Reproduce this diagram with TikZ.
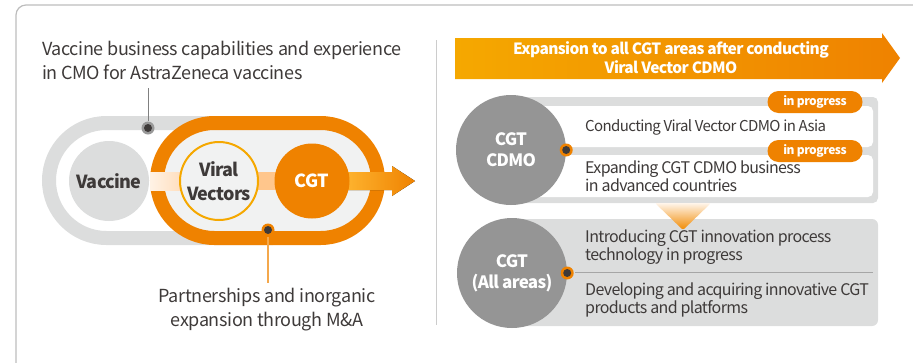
\documentclass[tikz,border=0pt]{standalone}
\usepackage{fontspec}
\setmainfont{Noto Sans CJK KR}[LetterSpace=-4]
\newfontfamily\loosefont{Noto Sans CJK KR}[LetterSpace=-2]
\usetikzlibrary{positioning}

\definecolor{samOrange}{HTML}{EF8200}
\definecolor{samYellow}{HTML}{F5A800}
\definecolor{samLight}{HTML}{DCDDDD}
\definecolor{samInner}{HTML}{F1F2F2}
\definecolor{samGray}{HTML}{959595}
\definecolor{samDark}{HTML}{3E3A39}
\definecolor{samFrame}{HTML}{BDBDBD}

\tikzset{
  bodytext/.style={text=samDark, font=\loosefont\fontsize{18}{24}\selectfont, align=left, inner sep=0pt},
  itemtext/.style={text=samDark, font=\fontsize{16}{16}\selectfont, align=left, anchor=west, inner sep=0pt},
  bigcircle/.style={circle, fill=samGray, minimum size=110pt, inner sep=0pt, text=white,
    font=\bfseries\fontsize{17}{21}\selectfont, align=center},
  badge/.style={rounded corners=11pt, fill=samOrange, text=white, minimum width=95pt,
    minimum height=22pt, inner sep=0pt, font=\bfseries\fontsize{12}{12}\selectfont},
  ringdot/.style={circle, fill=#1, minimum size=13pt, inner sep=0pt,
    path picture={\fill[samDark] (path picture bounding box.center) circle (4pt);}},
}

\begin{document}
\begin{tikzpicture}[x=1pt, y=-1pt]
    \useasboundingbox (0,0) rectangle (913,362);
    \clip (0,0) rectangle (913,362);

    % Marco exterior
    \draw[samFrame, line width=1.2pt, rounded corners=10pt] (16,5) rectangle (930,380);

    % Estadio gris (vacunas)
    \draw[samLight, line width=14pt, fill=white, rounded corners=57.5pt] (49,123) rectangle (330,238);
    \node[circle, fill=samLight, minimum size=80pt, inner sep=0pt, text=samDark,
      font=\bfseries\fontsize{18}{21}\selectfont] (vaccine) at (109,181) {Vaccine};

    % Estadio naranja (vectores virales y CGT)
    \draw[samOrange, line width=14pt, fill=samInner, rounded corners=57.5pt] (157,123) rectangle (378,238);

    % Barras de union
    \fill[left color=orange!10, right color=orange!30] (150,172) rectangle (190,190);
    \fill[orange!45] (250,172) rectangle (285,190);
    \fill[left color=orange!70!yellow!80, right color=samOrange]
      (340,172) -- (392,172) -- (392,166) -- (415,181) -- (392,196) -- (392,190) -- (340,190) -- cycle;

    \node[circle, draw=samYellow, line width=2pt, fill=samInner, minimum size=78pt, inner sep=0pt,
      text=samDark, align=center, font=\bfseries\fontsize{18}{24}\selectfont] (viral) at (219,181) {Viral\\Vectors};
    \node[circle, fill=samOrange, minimum size=75pt, inner sep=0pt, text=white,
      font=\bfseries\fontsize{18}{22}\selectfont] (cgt) at (312,181) {CGT};

    % Textos y lineas guia
    \node[bodytext, anchor=west] (capText) at (42,60)
      {Vaccine business capabilities and experience\\in CMO for AstraZeneca vaccines};
    \node[ringdot=gray!80] (vacDot) at (148,128) {};
    \coordinate (capEnd) at (148,88);
    \draw[gray, line width=1pt] (capEnd) -- (vacDot);

    \node[bodytext, align=center] (partText) at (267,310)
      {Partnerships and inorganic\\expansion through M\&A};
    \node[ringdot=samOrange] (partDot) at (268,230) {};
    \coordinate (partEnd) at (268,283);
    \draw[samOrange!70, line width=1.2pt] (partDot) -- (partEnd);

    % Separador
    \draw[gray!40, line width=1pt] (436,40) -- (436,325);

    % Flecha superior
    \shade[left color=samYellow, right color=samOrange]
      (455,38) -- (882,38) -- (882,33) -- (900,58) -- (882,83) -- (882,79) -- (455,79) -- cycle;
    \node[text=white, font=\bfseries\fontsize{15.5}{19}\selectfont, align=center] (headText) at (671,58)
      {Expansion to all CGT areas after conducting\\Viral Vector CDMO};

    % Panel CGT CDMO
    \fill[samLight, rounded corners=5pt] (511,97) rectangle (878,203);
    \fill[white, rounded corners=5pt] (520,106) rectangle (873,147);
    \fill[white, rounded corners=5pt] (520,155) rectangle (873,197);
    \node[badge] (prog1) at (815,102) {in progress};
    \node[badge] (prog2) at (815,151) {in progress};
    \node[itemtext, font=\fontsize{15}{16}\selectfont] (asia) at (585,127) {Conducting Viral Vector CDMO in Asia};
    \node[itemtext] (adv) at (585,176) {Expanding CGT CDMO business\\in advanced countries};
    \node[bigcircle] (cdmo) at (511,150) {CGT\\CDMO};
    \node[ringdot=samOrange] (cdmoDot) at (cdmo.east) {};

    % Panel CGT (todas las areas)
    \fill[samLight, rounded corners=6pt] (511,219) rectangle (878,326);
    \draw[gray!70, line width=0.8pt] (575,272) -- (873,272);

    % Triangulo hacia abajo
    \shade[top color=orange!8, bottom color=samOrange!80!samYellow, rounded corners=2pt]
      (655,203) -- (711,203) -- (683,230) -- cycle;

    \node[itemtext] (innov) at (585,247) {Introducing CGT innovation process\\technology in progress};
    \node[itemtext, font=\fontsize{16}{18}\selectfont] (prod) at (585,300)
      {Developing and acquiring innovative CGT\\products and platforms};
    \node[bigcircle] (all) at (512,273) {CGT\\(All areas)};
    \node[ringdot=samOrange] (allDot) at (all.east) {};
\end{tikzpicture}
\end{document}
